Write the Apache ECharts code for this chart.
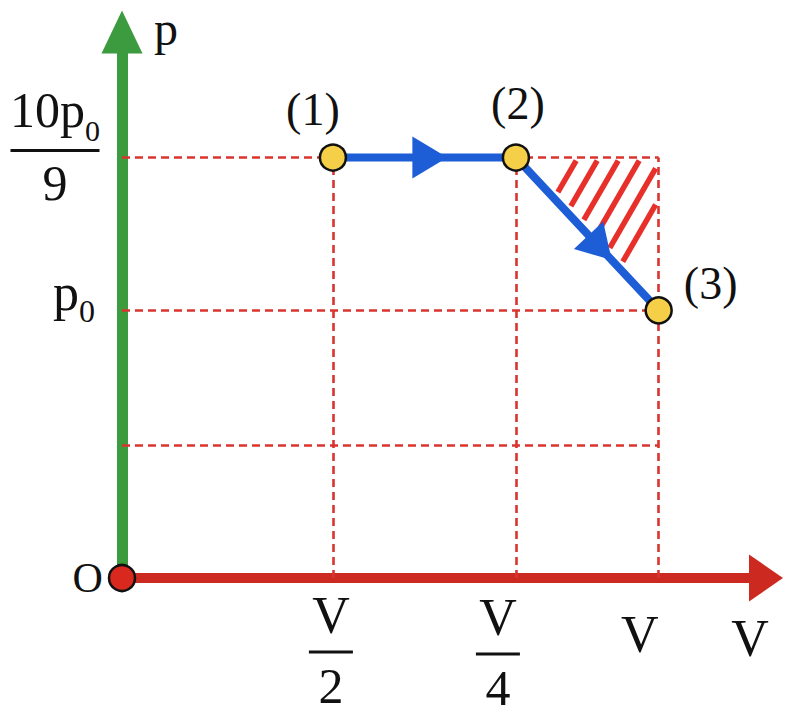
<!DOCTYPE html>
<html><head><meta charset="utf-8">
<script src="https://cdn.jsdelivr.net/npm/echarts@6/dist/echarts.min.js"></script>
<style>html,body{margin:0;padding:0;background:#fff}#c{width:788px;height:716px}</style>
</head><body><div id="c"></div>
<script>
// ---------- data (arbitrary units: p0 = 1) ----------
const stateNames = ['(1)', '(2)', '(3)'];
const stateV = [0.393, 0.734, 1.0];
const stateP = [1.571, 1.571, 1.0];
const vTickValues = [0.393, 0.734, 1.0];
const vTickNum = ['V', 'V', 'V'];
const vTickDen = ['2', '4', ''];
const pTickValues = [1.0, 1.571];
const pTickMain = ['p', '10p'];
const pTickSub = ['0', '0'];
const pTickDen = ['', '9'];
const pGridLevels = [0.496, 1.0, 1.571];
const originPoint = [0, 0];
const axisNames = { v: 'V', p: 'p', origin: 'O' };
const axisMax = { v: 1.2, p: 2.04 };

// ---------- styles ----------
const SERIF = 'Liberation Serif';
const INK = '#111';
const C = { green: '#3d9b3f', redAxis: '#cc2a20', dash: '#d9342e', stripe: '#e8302a', blue: '#1d5dd6', yellow: '#f6cf48', dotRed: '#d9281e' };
const stateLabelOffset = [[-20, -48], [2, -54], [52, -27]];
const arrowFrac = [0.53, 0.59];
const arrowSize = [[42, 35], [40, 34]]; // [width, length]
const xShift = [2, 18, 19];
const xLH = [[50, 24, 44], [55, 18, 50], [89]];

function nearest(arr, v) { let b = 0; arr.forEach((a, i) => { if (Math.abs(a - v) < Math.abs(arr[b] - v)) b = i; }); return b; }

const rich = {};
vTickValues.forEach((_, i) => {
  rich['xv' + i] = { fontSize: 52, fontFamily: SERIF, color: INK, lineHeight: xLH[i][0] };
  rich['xb' + i] = { fontSize: 1, width: 44, height: 3, lineHeight: xLH[i][1] || 24, backgroundColor: INK };
  rich['xd' + i] = { fontSize: 50, fontFamily: SERIF, color: INK, lineHeight: xLH[i][2] || 46 };
  rich['sp' + i] = { fontSize: 1, width: xShift[i] * 2 };
});
const yrich = {
  yn: { fontSize: 50, fontFamily: SERIF, color: INK, lineHeight: 50, align: 'center' },
  ys: { fontSize: 30, fontFamily: SERIF, color: INK, lineHeight: 50, padding: [42, 0, 0, 0], align: 'center' },
  yb: { fontSize: 1, width: 89, height: 3, lineHeight: 32, backgroundColor: INK, align: 'center' },
  yd: { fontSize: 50, fontFamily: SERIF, color: INK, lineHeight: 32, align: 'center' },
  ysp: { fontSize: 1, lineHeight: 32 },
  pm: { fontSize: 52, fontFamily: SERIF, color: INK, padding: [0, 0, 36, 0] },
  ps: { fontSize: 32, fontFamily: SERIF, color: INK, padding: [2, 5, 0, 0] }
};

function clipLine(p0, d, planes) {
  let t0 = -1e4, t1 = 1e4;
  for (const [ax, ay, b] of planes) {
    const num = b - (ax * p0[0] + ay * p0[1]);
    const den = ax * d[0] + ay * d[1];
    if (Math.abs(den) < 1e-9) { if (num < 0) return null; continue; }
    const t = num / den;
    if (den > 0) t1 = Math.min(t1, t); else t0 = Math.max(t0, t);
  }
  return t1 > t0 ? [t0, t1] : null;
}

const chart = echarts.init(document.getElementById('c'), null, { renderer: 'svg' });
const pathData = stateV.map((v, i) => [v, stateP[i]]);
const segData = [];
for (let i = 0; i < stateV.length - 1; i++) segData.push([stateV[i], stateP[i], stateV[i + 1], stateP[i + 1], i]);

chart.setOption({
  animation: false,
  backgroundColor: '#fff',
  grid: { left: 122, right: 22, top: 32, bottom: 138, containLabel: false },
  xAxis: {
    type: 'value', min: 0, max: axisMax.v,
    name: axisNames.v, nameLocation: 'end', nameGap: -16, nameMoveOverlap: false,
    nameTextStyle: { fontSize: 52, fontFamily: SERIF, color: INK, align: 'center', verticalAlign: 'top', lineHeight: 120 },
    axisLine: { show: true, lineStyle: { color: C.redAxis, width: 10 }, symbol: ['none', 'triangle'], symbolSize: [47, 34] },
    axisTick: { show: false }, splitLine: { show: false },
    axisLabel: {
      show: true, customValues: vTickValues, margin: 12, rich: rich,
      formatter: function (val) {
        const i = nearest(vTickValues, val);
        const sp = '{sp' + i + '|\u00a0}';
        if (vTickDen[i]) return '{xv' + i + '|' + vTickNum[i] + '}' + sp + '\n{xb' + i + '|\u00a0}' + sp + '\n{xd' + i + '|' + vTickDen[i] + '}' + sp;
        return '{xv' + i + '|' + vTickNum[i] + '}' + sp;
      }
    }
  },
  yAxis: {
    type: 'value', min: 0, max: axisMax.p,
    name: axisNames.p, nameLocation: 'end', nameGap: 4, nameMoveOverlap: false,
    nameTextStyle: { fontSize: 48, fontFamily: SERIF, color: INK, align: 'left', verticalAlign: 'middle', lineHeight: 48, padding: [0, 0, 0, 32] },
    axisLine: { show: true, lineStyle: { color: C.green, width: 11 }, symbol: ['none', 'triangle'], symbolSize: [41, 43] },
    axisTick: { show: false }, splitLine: { show: false },
    axisLabel: {
      show: true, customValues: pTickValues, margin: 22, rich: yrich,
      formatter: function (val) {
        const i = nearest(pTickValues, val);
        if (pTickDen[i]) return '{yn|' + pTickMain[i] + '}{ys|' + pTickSub[i] + '}\n{yb|\u00a0}\n{yd|' + pTickDen[i] + '}\n{ysp|\u00a0}';
        return '{pm|' + pTickMain[i] + '}{ps|' + pTickSub[i] + '}';
      }
    }
  },
  series: [
    {
      type: 'lines', coordinateSystem: 'cartesian2d', silent: true, z: 1,
      lineStyle: { color: C.dash, width: 2.6, type: [8, 5], opacity: 1 },
      data: [].concat(
        pGridLevels.map(p => ({ coords: [[0, p], [Math.max(...stateV), p]] })),
        vTickValues.map(v => ({ coords: [[v, 0], [v, Math.max(...stateP)]] }))
      )
    },
    {
      type: 'custom', coordinateSystem: 'cartesian2d', silent: true, z: 2,
      data: [[stateV[2], stateP[1]]],
      renderItem: function (params, api) {
        const a = api.coord([stateV[1], stateP[1]]);
        const c = api.coord([stateV[2], stateP[1]]);
        const b = api.coord([stateV[2], stateP[2]]);
        const L = Math.hypot(b[0] - a[0], b[1] - a[1]);
        const u = [(b[0] - a[0]) / L, (b[1] - a[1]) / L];
        const m = [u[1], -u[0]];
        const planes = [
          [0, -1, -(c[1] + 3)],
          [1, 0, c[0] - 3],
          [-m[0], -m[1], -(m[0] * a[0] + m[1] * a[1]) - 7]
        ];
        const d = [Math.cos(Math.PI / 3), -Math.sin(Math.PI / 3)];
        const kids = [];
        for (let k = 0; k < 6; k++) {
          const p0 = [a[0] + 62 + 21 * k, c[1]];
          const r = clipLine(p0, d, planes);
          if (!r) continue;
          kids.push({ type: 'line', shape: { x1: p0[0] + d[0] * r[0], y1: p0[1] + d[1] * r[0], x2: p0[0] + d[0] * r[1], y2: p0[1] + d[1] * r[1] },
            style: { stroke: C.stripe, lineWidth: 5.5, lineCap: 'butt' } });
        }
        return { type: 'group', children: kids };
      }
    },
    {
      type: 'line', data: pathData, symbol: 'none', z: 3, silent: true,
      lineStyle: { color: C.blue, width: 8, cap: 'round', join: 'round' }
    },
    {
      type: 'custom', coordinateSystem: 'cartesian2d', silent: true, z: 4,
      encode: { x: [0, 2], y: [1, 3] },
      data: segData,
      renderItem: function (params, api) {
        const s = api.coord([api.value(0), api.value(1)]);
        const e = api.coord([api.value(2), api.value(3)]);
        const k = api.value(4);
        const L = Math.hypot(e[0] - s[0], e[1] - s[1]);
        const u = [(e[0] - s[0]) / L, (e[1] - s[1]) / L];
        const n = [-u[1], u[0]];
        const f = arrowFrac[k], w = arrowSize[k][0], len = arrowSize[k][1];
        const cx = s[0] + (e[0] - s[0]) * f, cy = s[1] + (e[1] - s[1]) * f;
        const tip = [cx + u[0] * len / 2, cy + u[1] * len / 2];
        const bx = cx - u[0] * len / 2, by = cy - u[1] * len / 2;
        return { type: 'polygon', shape: { points: [tip, [bx + n[0] * w / 2, by + n[1] * w / 2], [bx - n[0] * w / 2, by - n[1] * w / 2]] },
          style: { fill: C.blue } };
      }
    },
    {
      type: 'scatter', z: 5, silent: true, symbol: 'circle', symbolSize: 26,
      itemStyle: { color: C.yellow, borderColor: INK, borderWidth: 2.5, opacity: 1 },
      data: pathData.map((pt, i) => ({ value: pt, name: stateNames[i], label: { offset: stateLabelOffset[i] } })),
      label: { show: true, position: 'inside', formatter: '{b}', fontSize: 46, fontFamily: SERIF, color: INK }
    },
    {
      type: 'scatter', z: 6, silent: true, symbol: 'circle', symbolSize: 26,
      itemStyle: { color: C.dotRed, borderColor: INK, borderWidth: 2.5, opacity: 1 },
      data: [{ value: originPoint, name: axisNames.origin }],
      label: { show: true, position: 'left', distance: 5, formatter: '{b}', fontSize: 42, fontFamily: SERIF, color: INK }
    }
  ]
});
</script></body></html>
